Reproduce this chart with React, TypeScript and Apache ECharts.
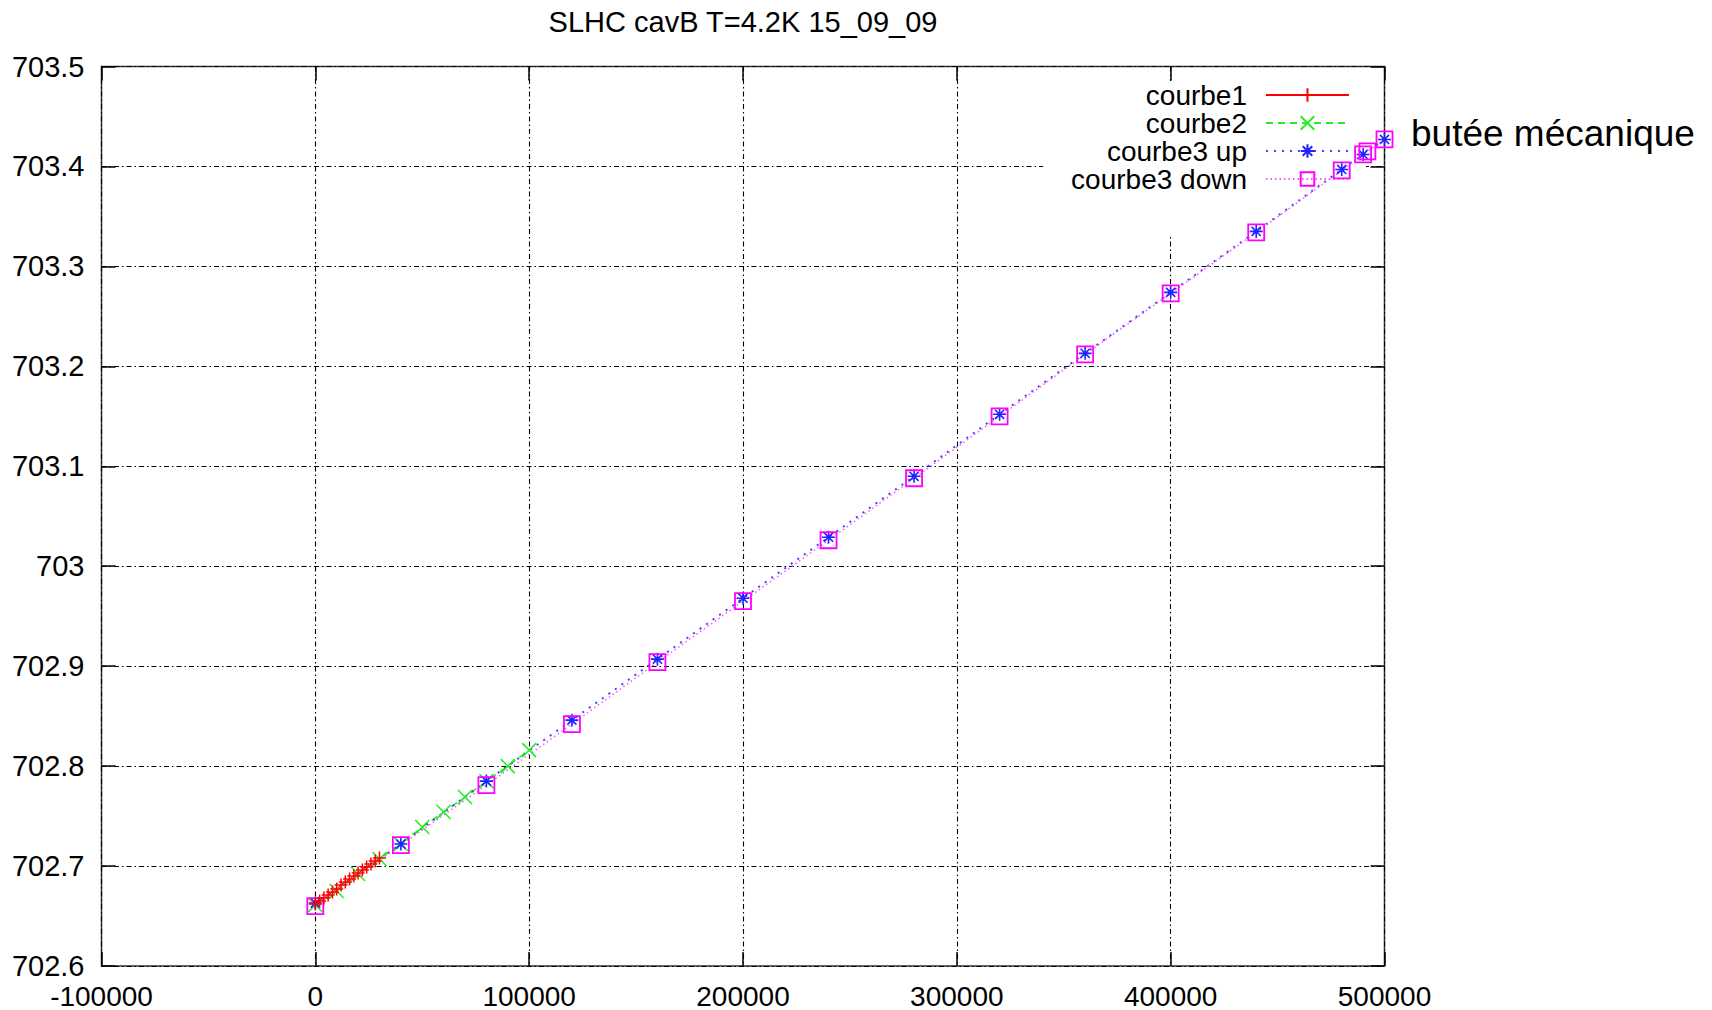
import React, { useEffect, useRef } from 'react';
import * as echarts from 'echarts';

const titleText = 'SLHC cavB T=4.2K 15_09_09';
const annotation = 'butée mécanique';
const seriesNames = ['courbe1', 'courbe2', 'courbe3 up', 'courbe3 down'];

const xMin = -100000;
const xMax = 500000;
const xStep = 100000;
const yMin = 702.6;
const yMax = 703.5;
const yStep = 0.1;

// courbe1 (red +)
const c1X = [0, 2000, 4000, 6000, 8000, 10000, 12000, 14000, 16000, 18000, 20000, 22000, 24000, 26000, 28000, 30000];
const c1Y = [702.662, 702.665, 702.668, 702.671, 702.674, 702.677, 702.681, 702.684, 702.687, 702.690, 702.693, 702.696, 702.699, 702.702, 702.705, 702.708];

// courbe2 (green x)
const c2X = [0, 10000, 20000, 30000, 40000, 50000, 60000, 70000, 80000, 90000, 100000];
const c2Y = [702.661, 702.675, 702.692, 702.707, 702.722, 702.739, 702.754, 702.769, 702.785, 702.800, 702.816];

// courbe3 up (blue *)
const c3uX = [0, 40000, 80000, 120000, 160000, 200000, 240000, 280000, 320000, 360000, 400000, 440000, 480000, 490000, 500000];
const c3uY = [702.663, 702.722, 702.785, 702.846, 702.907, 702.968, 703.029, 703.090, 703.152, 703.213, 703.274, 703.335, 703.397, 703.412, 703.427];

// courbe3 down (magenta squares)
const c3dX = [500000, 492000, 490000, 480000, 440000, 400000, 360000, 320000, 280000, 240000, 200000, 160000, 120000, 80000, 40000, 0];
const c3dY = [703.427, 703.415, 703.412, 703.396, 703.334, 703.273, 703.212, 703.150, 703.088, 703.026, 702.965, 702.904, 702.842, 702.781, 702.721, 702.660];

const FONT = "'Liberation Sans', Arial, sans-serif";

const zip = (xs: number[], ys: number[]) => xs.map((x, i) => [x, ys[i]]);
const fmtX = (v: number) => String(Math.round(v));
const fmtY = (v: number) => String(Math.round(v * 10) / 10);

const PLUS = 'path://M-1,0L1,0M0,-1L0,1';
const CROSS = 'path://M-1,-1L1,1M-1,1L1,-1';
const STAR = 'path://M-1,0L1,0M0,-1L0,1M-0.7,-0.7L0.7,0.7M-0.7,0.7L0.7,-0.7';
const SQUARE = 'path://M-1,-1L1,-1L1,1L-1,1Z';

export default function App() {
  const ref = useRef<HTMLDivElement>(null);

  useEffect(() => {
    if (!ref.current) return;
    const chart = echarts.init(ref.current, null, { renderer: 'svg' });

    const gridLine = { show: true, lineStyle: { color: '#000', width: 1.1, type: [5, 3, 1.5, 3] } };
    const tick = { show: true, inside: true, length: 14, lineStyle: { color: '#000', width: 1.5 } };
    const noLine = { show: false, onZero: false };

    chart.setOption({
      animation: false,
      backgroundColor: '#fff',
      title: {
        text: titleText,
        left: 743,
        top: 7,
        textAlign: 'center',
        padding: 0,
        textStyle: { fontFamily: FONT, fontSize: 29, fontWeight: 'normal', color: '#000' },
      },
      grid: {
        left: 101.5,
        right: 327.5,
        top: 66.5,
        bottom: 44,
        show: true,
        borderColor: '#333',
        borderWidth: 1.5,
        backgroundColor: 'transparent',
      },
      legend: {
        orient: 'vertical',
        align: 'right',
        right: 346,
        top: 81,
        z: 1,
        backgroundColor: '#fff',
        padding: [0, 16, 43, 28],
        itemWidth: 83,
        itemHeight: 17,
        itemGap: 0,
        selectedMode: false,
        textStyle: { fontFamily: FONT, fontSize: 28, color: '#000', lineHeight: 26, padding: [0, 14, 0, 0] },
        data: seriesNames,
      },
      xAxis: [
        {
          type: 'value',
          min: xMin,
          max: xMax,
          interval: xStep,
          axisLine: noLine,
          axisTick: tick,
          splitLine: gridLine,
          axisLabel: { fontFamily: FONT, fontSize: 28, color: '#000', margin: 16, formatter: fmtX },
        },
        {
          type: 'value',
          position: 'top',
          min: xMin,
          max: xMax,
          interval: xStep,
          axisLine: noLine,
          axisTick: tick,
          splitLine: { show: false },
          axisLabel: { show: false },
        },
      ],
      yAxis: [
        {
          type: 'value',
          min: yMin,
          max: yMax,
          interval: yStep,
          axisLine: noLine,
          axisTick: tick,
          splitLine: gridLine,
          axisLabel: { fontFamily: FONT, fontSize: 29, color: '#000', margin: 17, formatter: fmtY },
        },
        {
          type: 'value',
          position: 'right',
          min: yMin,
          max: yMax,
          interval: yStep,
          axisLine: noLine,
          axisTick: tick,
          splitLine: { show: false },
          axisLabel: { show: false },
        },
      ],
      series: [
        {
          name: seriesNames[0],
          type: 'line',
          z: 3,
          data: zip(c1X, c1Y),
          symbol: PLUS,
          symbolSize: 13,
          itemStyle: { color: '#ff0000', borderColor: '#ff0000', borderWidth: 1.5 },
          lineStyle: { color: '#ff0000', width: 1, type: 'solid' },
        },
        {
          name: seriesNames[1],
          type: 'line',
          z: 2,
          data: zip(c2X, c2Y),
          symbol: CROSS,
          symbolSize: 14,
          itemStyle: { color: '#22ee22', borderColor: '#22ee22', borderWidth: 1.5 },
          lineStyle: { color: '#22ee22', width: 1.5, type: [7, 5] },
        },
        {
          name: seriesNames[2],
          type: 'line',
          z: 2,
          data: zip(c3uX, c3uY),
          symbol: STAR,
          symbolSize: 13,
          itemStyle: { color: '#2222ff', borderColor: '#2222ff', borderWidth: 1.6 },
          lineStyle: { color: '#4444ff', width: 2, type: [2, 6] },
        },
        {
          name: seriesNames[3],
          type: 'line',
          z: 2,
          data: zip(c3dX, c3dY),
          symbol: SQUARE,
          symbolSize: 16,
          itemStyle: { color: 'rgba(0,0,0,0)', borderColor: '#ff00ff', borderWidth: 1.8 },
          lineStyle: { color: '#ff55ff', width: 1.5, type: [1.5, 3] },
        },
      ],
      graphic: [
        {
          type: 'text',
          left: 1411,
          top: 115,
          style: { text: annotation, fontFamily: FONT, fontSize: 37, fill: '#000' },
        },
      ],
    });

    return () => chart.dispose();
  }, []);

  return <div ref={ref} style={{ position: 'absolute', left: 0, top: 0, width: 1712, height: 1010 }} />;
}
